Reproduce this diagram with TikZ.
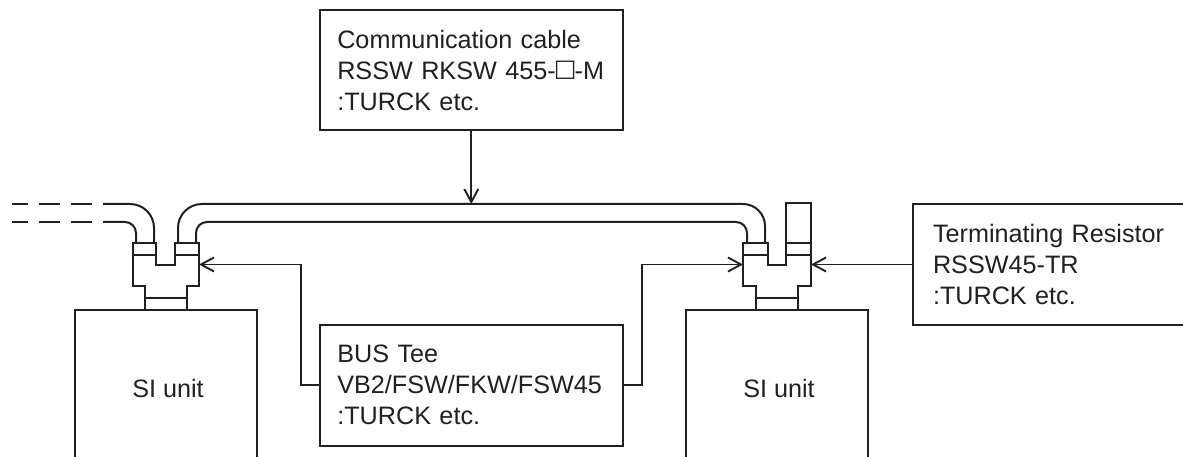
\documentclass[tikz,border=0pt]{standalone}
\usepackage{fontspec}
\setmainfont{Liberation Sans}
\newfontfamily\symfont{DejaVu Sans}
\usetikzlibrary{arrows.meta}
\definecolor{ink}{HTML}{231F20}
\tikzset{
 x=1pt,y=-1pt,
 line/.style={draw=ink,line width=2pt,line join=miter},
 label text/.style={text=ink,font=\fontsize{25.2}{31}\selectfont,align=left,inner ysep=0pt,anchor=center},
 label box/.style={label text,draw=ink,line width=2pt},
 pointer/.style={draw=ink,line width=1.7pt,-{Straight Barb[length=13pt,width=14pt,line width=1.9pt]}},
}
\begin{document}
\begin{tikzpicture}
\useasboundingbox (0,0) rectangle (1183,457);
\coordinate (pageedge) at (1183,0);
% label boxes
\node[label box,minimum width=302.7,minimum height=120.5,text width=268,inner xsep=17pt] (comm) at (471.3,70.2) {Communication cable\\RSSW RKSW 455-\makebox[19pt]{\raisebox{3pt}{\symfont\fontsize{24}{31}\selectfont □}}-M\\:TURCK etc.};
\node[label text,minimum width=300,minimum height=121,text width=260,inner xsep=20pt] (term) at (1063,264.5) {Terminating Resistor\\RSSW45-TR\\:TURCK etc.};
\draw[line] (term.north west -| pageedge) -- (term.north west) -- (term.south west) -- (term.south west -| pageedge);
\node[label box,minimum width=302.7,minimum height=120.7,text width=268,inner xsep=17pt] (tee) at (471.3,385.3) {BUS Tee\\VB2/FSW/FKW/FSW45\\:TURCK etc.};
% SI units
\coordinate (lua) at (75,457); \coordinate (lub) at (75,309.5); \coordinate (luc) at (257,309.5); \coordinate (lud) at (257,457);
\draw[line] (lua) -- (lub) -- (luc) -- (lud);
\coordinate (rua) at (686,457); \coordinate (rub) at (686,309.5); \coordinate (ruc) at (868,309.5); \coordinate (rud) at (868,457);
\draw[line] (rua) -- (rub) -- (ruc) -- (rud);
\node[label text] (lutext) at (168,388.5) {SI unit};
\node[label text] (rutext) at (779,388.5) {SI unit};
% left tee
\draw[line] (145,309) -- (145,285.5) -- (133,285.5) -- (133,243) -- (156,243) -- (156,264.5) -- (175,264.5) -- (175,243) -- (199,243) -- (199,285.5) -- (187,285.5) -- (187,309);
\draw[line] (133,255) -- (156,255) (175,255) -- (199,255) (145,297.5) -- (187,297.5);
% right tee
\draw[line] (756,309) -- (756,285.5) -- (743,285.5) -- (743,243) -- (768,243) -- (768,264.5) -- (786,264.5) -- (786,203.5) -- (811,203.5) -- (811,285.5) -- (798,285.5) -- (798,309);
\draw[line] (743,255) -- (768,255) (786,255) -- (811,255) (786,243) -- (811,243) (756,297.5) -- (798,297.5);
% cables
\draw[line] (178,243) -- (178,228) .. controls (178,214.7) and (188.7,204) .. (202,204) -- (743,204) .. controls (755.1,204) and (765,213.9) .. (765,226) -- (765,243);
\draw[line] (196,243) -- (196,233) .. controls (196,226.9) and (200.9,222) .. (207,222) -- (736,222) .. controls (742.1,222) and (747,226.9) .. (747,233) -- (747,243);
\draw[line] (154,243) -- (154,228) .. controls (154,214.7) and (143.3,204) .. (130,204) -- (103,204);
\draw[line] (136,243) -- (136,233) .. controls (136,226.9) and (131.1,222) .. (125,222) -- (103,222);
\draw[line] (12,204) -- (28,204) (39,204) -- (60,204) (71,204) -- (92,204);
\draw[line] (12,222) -- (28,222) (39,222) -- (60,222) (71,222) -- (92,222);
% pointers
\coordinate (cablept) at (471.3,204);
\draw[pointer] (comm.south) -- (cablept);
\coordinate (ltip) at (199,264.5);
\coordinate (rtip) at (743,264.5);
\coordinate (ttip) at (811,264.5);
\draw[pointer] (tee.west) -- ++(-18,0) |- (ltip);
\draw[pointer] (tee.east) -- ++(18,0) |- (rtip);
\draw[pointer] (term.west) -- (ttip);
\end{tikzpicture}
\end{document}
